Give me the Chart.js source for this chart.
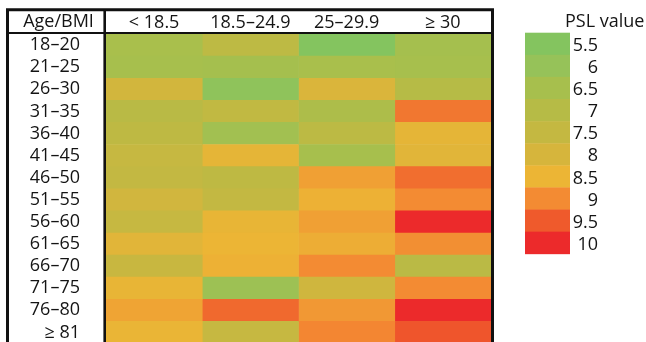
<!DOCTYPE html>
<html>
<head>
<meta charset="utf-8">
<script src="https://cdn.jsdelivr.net/npm/chart.js@4/dist/chart.umd.min.js"></script>
<style>
  html, body { margin: 0; padding: 0; background: #fff; }
  #frame { width: 646px; height: 342px; overflow: hidden; }
  #heat { display: block; }
</style>
</head>
<body>
<div id="frame"><canvas id="heat" width="646" height="348"></canvas></div>
<script>
// Row and column categories
const ageGroups = ['18–20', '21–25', '26–30', '31–35', '36–40', '41–45', '46–50',
                   '51–55', '56–60', '61–65', '66–70', '71–75', '76–80', '≥ 81'];
const bmiGroups = ['< 18.5', '18.5–24.9', '25–29.9', '≥ 30'];

// PSL value per age group, one array per BMI class
const pslBmiUnder185 = [6.55, 6.5, 7.9, 7.1, 7.3, 7.55, 7.45, 7.85, 7.55, 8.25, 7.6, 8.4, 8.7, 8.45];
const pslBmi185to249 = [7.25, 6.45, 5.8, 7.4, 6.35, 8.35, 7.3, 7.45, 8.4, 8.5, 8.55, 6.2, 9.35, 7.55];
const pslBmi25to299  = [5.5, 6.55, 8.1, 6.7, 7.2, 6.5, 8.75, 8.55, 8.75, 8.6, 9.0, 7.8, 8.85, 9.05];
const pslBmiOver30   = [6.45, 6.5, 7.0, 9.2, 8.35, 8.25, 9.3, 9.0, 10, 8.95, 7.15, 9.0, 10, 9.55];

// Colour key
const keyValues = [5.5, 6, 6.5, 7, 7.5, 8, 8.5, 9, 9.5, 10];
const keyLabels = ['5.5', '6', '6.5', '7', '7.5', '8', '8.5', '9', '9.5', '10'];
const keyColors = ['#84c45f', '#96c259', '#a7bf4d', '#b6bb46', '#c4b841',
                   '#d6b53c', '#ecb535', '#f38b33', '#ef5a2c', '#ec2a2b'];

const columns = [pslBmiUnder185, pslBmi185to249, pslBmi25to299, pslBmiOver30];

function hexToRgb(h) {
  const n = parseInt(h.slice(1), 16);
  return [(n >> 16) & 255, (n >> 8) & 255, n & 255];
}
// Linear blend between the key colours
function colorFor(v) {
  if (v <= keyValues[0]) return keyColors[0];
  const last = keyValues.length - 1;
  if (v >= keyValues[last]) return keyColors[last];
  let i = 0;
  while (v > keyValues[i + 1]) i++;
  const t = (v - keyValues[i]) / (keyValues[i + 1] - keyValues[i]);
  const a = hexToRgb(keyColors[i]), b = hexToRgb(keyColors[i + 1]);
  const c = a.map((x, k) => Math.round(x + (b[k] - x) * t));
  return `rgb(${c[0]},${c[1]},${c[2]})`;
}

const FONT = 'Open Sans';
const INK = '#141414';
Chart.defaults.font.family = FONT;
Chart.defaults.font.size = 18;
Chart.defaults.color = INK;

// Each cell is a floating bar spanning one column unit
const datasets = columns.map((vals, c) => ({
  label: bmiGroups[c],
  data: vals.map(() => [c, c + 1]),
  backgroundColor: vals.map(colorFor),
  borderWidth: 0,
  barPercentage: 1,
  categoryPercentage: 1,
  grouped: false
}));

// Table rules, corner caption and colour key
const tableFrame = {
  id: 'tableFrame',
  afterDraw(chart) {
    const ctx = chart.ctx;
    const a = chart.chartArea;
    const ys = chart.scales.y;
    const rowH = ys.getPixelForValue(1) - ys.getPixelForValue(0);
    ctx.save();
    ctx.strokeStyle = '#111';
    // outer box
    ctx.lineWidth = 3;
    ctx.beginPath();
    ctx.moveTo(7.5, a.bottom + 4);
    ctx.lineTo(7.5, 9.7);
    ctx.lineTo(a.right + 1.5, 9.7);
    ctx.lineTo(a.right + 1.5, a.bottom + 4);
    ctx.stroke();
    // header rule
    ctx.lineWidth = 2;
    ctx.beginPath();
    ctx.moveTo(6, a.top - 1);
    ctx.lineTo(a.right + 3, a.top - 1);
    ctx.stroke();
    // row label separator
    ctx.lineWidth = 2.6;
    ctx.beginPath();
    ctx.moveTo(a.left - 1.3, 9);
    ctx.lineTo(a.left - 1.3, a.bottom + 4);
    ctx.stroke();

    ctx.fillStyle = INK;
    ctx.font = `18px "${FONT}"`;
    ctx.textBaseline = 'middle';
    ctx.textAlign = 'center';
    ctx.fillText('Age/BMI', 58.5, 22);

    // colour key
    const kx = 525, kw = 45;
    const top0 = a.top - 1.3;
    keyColors.forEach((col, i) => {
      ctx.fillStyle = col;
      ctx.fillRect(kx, top0 + i * rowH, kw, rowH + 0.4);
    });
    ctx.fillStyle = INK;
    ctx.textAlign = 'right';
    keyLabels.forEach((lab, i) => {
      ctx.fillText(lab, 598, top0 + (i + 0.5) * rowH + 2);
    });
    ctx.textAlign = 'left';
    ctx.fillText('PSL value', 565, 21.5);
    ctx.restore();
  }
};

new Chart(document.getElementById('heat'), {
  type: 'bar',
  data: { labels: ageGroups, datasets },
  options: {
    indexAxis: 'y',
    responsive: false,
    animation: false,
    events: [],
    layout: { padding: { left: 7, top: 10, right: 155, bottom: 4.5 } },
    plugins: { legend: { display: false }, tooltip: { enabled: false } },
    scales: {
      x: {
        type: 'linear',
        position: 'top',
        min: 0,
        max: 4,
        grid: { display: false, drawTicks: false },
        border: { display: false },
        afterBuildTicks(scale) {
          scale.ticks = bmiGroups.map((_, i) => ({ value: i + 0.5 }));
        },
        afterFit(scale) {
          scale.height = 24;
          scale.paddingLeft = 0;
          scale.paddingRight = 0;
        },
        ticks: {
          autoSkip: false,
          maxRotation: 0,
          padding: 0,
          callback: (v) => bmiGroups[Math.floor(v)]
        }
      },
      y: {
        type: 'category',
        offset: true,
        grid: { display: false, drawTicks: false },
        border: { display: false },
        afterFit(scale) {
          scale.width = 99;
          scale.paddingTop = 0;
          scale.paddingBottom = 0;
        },
        ticks: { autoSkip: false, padding: 26 }
      }
    }
  },
  plugins: [tableFrame]
});
</script>
</body>
</html>
